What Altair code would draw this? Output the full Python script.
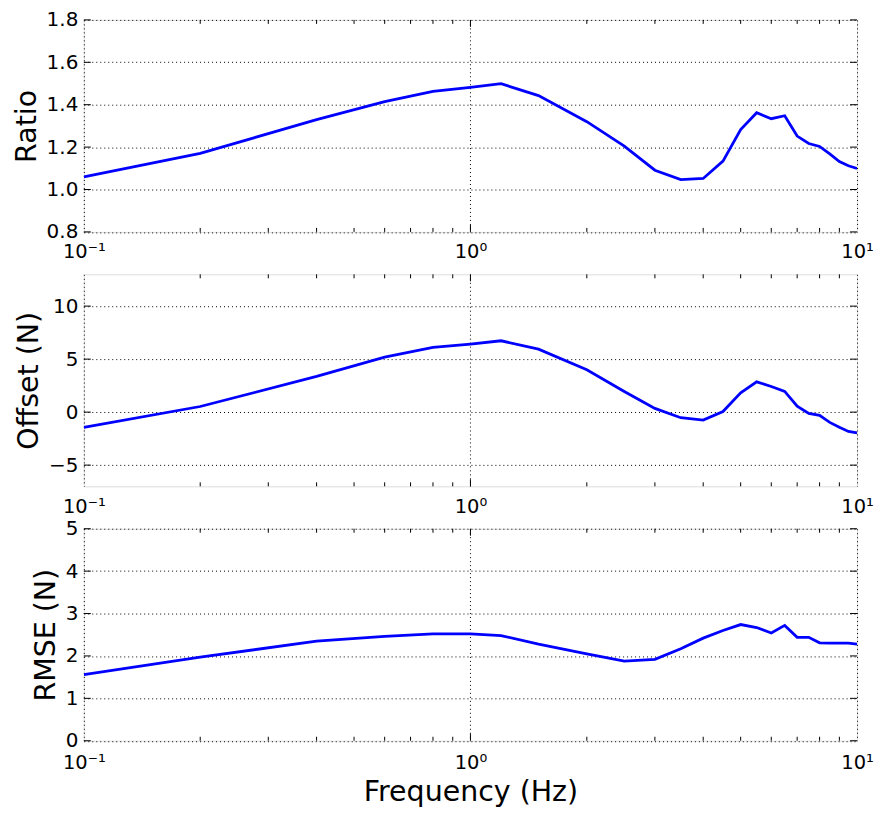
import altair as alt
import pandas as pd

freq = [0.1, 0.2, 0.4, 0.6, 0.8, 1.0, 1.2, 1.5, 2.0, 2.5, 3.0, 3.5, 4.0, 4.5,
        5.0, 5.5, 6.0, 6.5, 7.0, 7.5, 8.0, 8.5, 9.0, 9.5, 10.0]
ratio = [1.06, 1.17, 1.33, 1.414, 1.463, 1.482, 1.499, 1.443, 1.32, 1.205, 1.091,
         1.047, 1.052, 1.134, 1.283, 1.362, 1.334, 1.348, 1.252, 1.217, 1.203,
         1.168, 1.132, 1.112, 1.099]
offset = [-1.45, 0.53, 3.37, 5.19, 6.10, 6.42, 6.73, 5.94, 3.99, 1.95, 0.35,
          -0.53, -0.75, 0.06, 1.82, 2.86, 2.42, 1.95, 0.57, -0.13, -0.31,
          -0.97, -1.42, -1.82, -1.95]
rmse = [1.56, 1.97, 2.35, 2.46, 2.52, 2.52, 2.48, 2.28, 2.05, 1.88, 1.92,
        2.17, 2.42, 2.60, 2.74, 2.67, 2.54, 2.72, 2.44, 2.44, 2.31, 2.30,
        2.30, 2.30, 2.28]

x_major = [0.1, 1.0, 10.0]
x_minor = [0.2, 0.3, 0.4, 0.5, 0.6, 0.7, 0.8, 0.9, 2, 3, 4, 5, 6, 7, 8, 9]

ratio_ticks = [0.8, 1.0, 1.2, 1.4, 1.6, 1.8]
offset_ticks = [-5, 0, 5, 10]
rmse_ticks = [0, 1, 2, 3, 4, 5]

W, H = 775, 212.5
FONT = "DejaVu Sans"
BLUE = "#0000ff"
TICK_FS = 20
XTICK_FS = 19.5
TITLE_FS = 28.5

label_expr = ("datum.value < 0.5 ? '10\u207b\u00b9' : "
              "(datum.value < 5 ? '10\u2070' : '10\u00b9')")


def panel(values, ydomain, yticks, ytitle, yfmt, xtitle=None):
    xaxis_kw = dict(values=x_major, labelExpr=label_expr, grid=True,
                    gridDash=[1, 3], gridColor="black", gridWidth=1,
                    ticks=False, tickSize=0, domain=False,
                    labelFontSize=XTICK_FS, labelPadding=11,
                    labelColor="black", labelFont=FONT, labelFlush=False)
    if xtitle:
        xaxis_kw.update(title=xtitle, titleFontSize=TITLE_FS, titleFont=FONT,
                        titleFontWeight="normal", titlePadding=6,
                        titleColor="black", labelPadding=12.5)
    else:
        xaxis_kw.update(title=None)
    xaxis = alt.Axis(**xaxis_kw)
    yaxis = alt.Axis(values=yticks, format=yfmt, grid=True, gridDash=[1, 3],
                     gridColor="black", gridWidth=1, ticks=False, tickSize=0,
                     domain=False, labelFontSize=TICK_FS, labelPadding=6,
                     labelColor="black", labelFont=FONT, title=ytitle,
                     titleFontSize=TITLE_FS, titleFont=FONT,
                     titleFontWeight="normal", titlePadding=5,
                     titleColor="black")
    xscale = alt.Scale(type="log", domain=[0.1, 10])
    yscale = alt.Scale(domain=ydomain, nice=False, zero=False)

    df = pd.DataFrame({"f": freq, "v": values})
    line = alt.Chart(df).mark_line(color=BLUE, strokeWidth=2.8, clip=True).encode(
        x=alt.X("f:Q", scale=xscale, axis=xaxis),
        y=alt.Y("v:Q", scale=yscale, axis=yaxis),
    )

    minor_df = pd.DataFrame({"f": x_minor})
    major_df = pd.DataFrame({"f": [1.0]})
    xenc = alt.X("f:Q", scale=xscale, axis=xaxis)
    minor_bot = alt.Chart(minor_df).mark_rule(color="black", strokeWidth=1).encode(
        x=xenc, y=alt.value(H), y2=alt.value(H - 4))
    minor_top = alt.Chart(minor_df).mark_rule(color="black", strokeWidth=1).encode(
        x=xenc, y=alt.value(0), y2=alt.value(4))
    major_bot = alt.Chart(major_df).mark_rule(color="black", strokeWidth=1).encode(
        x=xenc, y=alt.value(H), y2=alt.value(H - 7))
    major_top = alt.Chart(major_df).mark_rule(color="black", strokeWidth=1).encode(
        x=xenc, y=alt.value(0), y2=alt.value(7))

    ytick_df = pd.DataFrame({"v": yticks})
    yenc = alt.Y("v:Q", scale=yscale, axis=yaxis)
    yl = alt.Chart(ytick_df).mark_rule(color="black", strokeWidth=1).encode(
        y=yenc, x=alt.value(0), x2=alt.value(7))
    yr = alt.Chart(ytick_df).mark_rule(color="black", strokeWidth=1).encode(
        y=yenc, x=alt.value(W - 7), x2=alt.value(W))

    return alt.layer(line, minor_bot, minor_top, major_bot, major_top, yl, yr).properties(
        width=W, height=H)


p1 = panel(ratio, [0.8, 1.8], ratio_ticks, "Ratio", ".1f")
p2 = panel(offset, [-7, 13], offset_ticks, "Offset (N)", "d")
p3 = panel(rmse, [0, 5], rmse_ticks, "RMSE (N)", "d", xtitle="Frequency (Hz)")

chart = alt.vconcat(p1, p2, p3, spacing=42, bounds="flush").properties(
    padding={"left": 3, "top": 0, "right": 5, "bottom": 5}
).configure_view(stroke="black", strokeWidth=1).configure(
    font=FONT, background="white"
)

chart.save("out.html", embed_options={"renderer": "svg", "actions": False})
